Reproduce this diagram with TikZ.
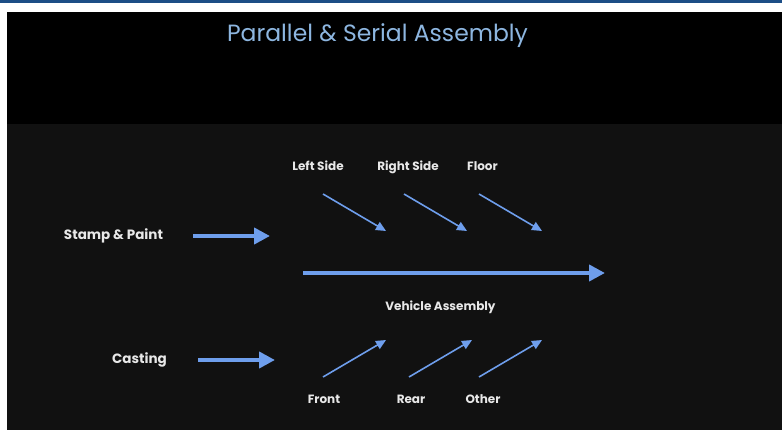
\documentclass[tikz,border=0pt]{standalone}
\usepackage{fontspec}
\setmainfont{Poppins}
\usetikzlibrary{arrows.meta}
\definecolor{barblue}{RGB}{28,78,134}
\definecolor{titleblue}{RGB}{141,182,224}
\definecolor{arrowblue}{RGB}{110,158,236}
\definecolor{panelgray}{RGB}{17,17,17}
\definecolor{labelwhite}{RGB}{232,232,232}
\tikzset{
  lbl/.style={text=labelwhite, font=\bfseries\fontsize{12}{14}\selectfont, inner sep=0pt, anchor=base},
  biglbl/.style={text=labelwhite, font=\bfseries\fontsize{13.5}{16}\selectfont, inner sep=0pt, anchor=base},
  flow/.style={draw=arrowblue, line width=4pt, -{Triangle[length=16pt,width=16pt]}},
  feed/.style={draw=arrowblue, line width=1.6pt, -{Triangle[length=10pt,width=9pt]}},
}
\begin{document}
\begin{tikzpicture}[x=1pt,y=-1pt]
\useasboundingbox (0,0) rectangle (782,430);
% page background and header strip
\fill[white] (0,0) rectangle (782,430);
\fill[barblue] (0,0) rectangle (782,3);
\fill[black] (7,12) rectangle (782,124);
\fill[panelgray] (7,124) rectangle (782,430);

% title
\node[text=titleblue, font=\fontsize{23.5}{28}\selectfont, inner sep=0pt, anchor=base] (title) at (377.5,41.5) {Parallel \& Serial Assembly};

% input labels
\node[biglbl] (stamp) at (113.5,239.5) {Stamp \& Paint};
\node[biglbl] (casting) at (139.5,363.5) {Casting};

% input arrows
\coordinate (s1) at (193,236); \coordinate (s2) at (270,236);
\coordinate (c1) at (198,360); \coordinate (c2) at (275,360);
\draw[flow] (s1) -- (s2);
\draw[flow] (c1) -- (c2);

% main line
\coordinate (m1) at (303,273); \coordinate (m2) at (605,273);
\draw[flow] (m1) -- (m2);
\node[lbl] (vehicle) at (440.5,311) {Vehicle Assembly};

% upper feeders
\node[lbl] (left) at (318,171) {Left Side};
\node[lbl] (right) at (408,171) {Right Side};
\node[lbl] (floor) at (482.5,171) {Floor};
\coordinate (l1) at (323,194); \coordinate (l2) at (386,231);
\coordinate (r1) at (404,194); \coordinate (r2) at (467,231);
\coordinate (f1) at (479,194); \coordinate (f2) at (542,231);
\draw[feed] (l1) -- (l2);
\draw[feed] (r1) -- (r2);
\draw[feed] (f1) -- (f2);

% lower feeders
\node[lbl] (front) at (324,403.5) {Front};
\node[lbl] (rear) at (411,403.5) {Rear};
\node[lbl] (other) at (483,403.5) {Other};
\coordinate (a1) at (323,377); \coordinate (a2) at (386,340);
\coordinate (b1) at (409,377); \coordinate (b2) at (472,340);
\coordinate (o1) at (479,377); \coordinate (o2) at (542,340);
\draw[feed] (a1) -- (a2);
\draw[feed] (b1) -- (b2);
\draw[feed] (o1) -- (o2);
\end{tikzpicture}
\end{document}
